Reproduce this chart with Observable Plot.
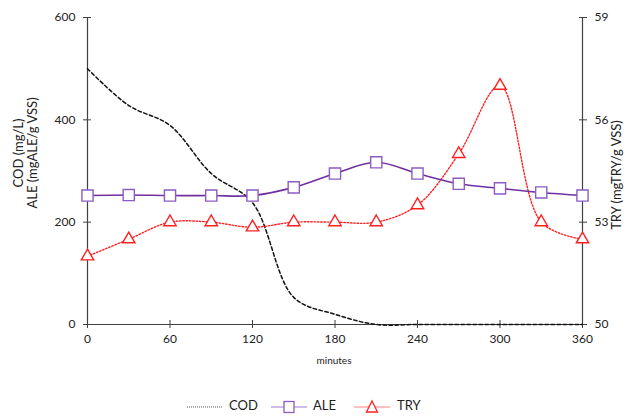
<!DOCTYPE html>
<html><head><meta charset="utf-8">
<script src="https://cdn.jsdelivr.net/npm/d3@7"></script>
<script src="https://cdn.jsdelivr.net/npm/@observablehq/plot@0.6"></script>
<style>
body{margin:0;background:#fff;font-family:Lato,"Open Sans",sans-serif;}
#chart{position:relative;width:625px;height:419px;overflow:hidden;}
#chart svg{display:block;}
#legend{position:absolute;left:0;top:385px;}
</style></head><body><div id="chart"></div>
<script>
const minutes = [0,30,60,90,120,150,180,210,240,270,300,330,360];
const cod = [500,428,389,295,238,53,20,0,0,0,0,0,0];
const ale = [252,253,252,252,252,268,295,317,295,275,266,258,252];
const tryVals = [52.0,52.5,53.0,53.0,52.85,53.0,53.0,53.0,53.5,55.0,57.0,53.0,52.5];
const xTicks = [0,60,120,180,240,300,360];
const leftTicks = [0,200,400,600];
const rightTicks = [50,53,56,59];
const seriesNames = ["COD","ALE","TRY"];
const leftLabel = ["COD (mg/L)","ALE (mgALE/g VSS)"];
const rightLabel = "TRY (mgTRY/g VSS)";
const xLabel = "minutes";

const W = 625, H = 385;
const yT = v => (v - 50) * 600 / 9;     // right-axis value -> left scale
const yTinv = v => 50 + v * 9 / 600;

const rows = minutes.map((m, i) => ({m, cod: cod[i], ale: ale[i], tr: yT(tryVals[i])}));
const axisColor = "#404040";
const aleColor = "#7030A0", aleMarker = "#8B5CC4", tryColor = "#FF2020";

const plot = Plot.plot({
  width: W, height: H,
  marginLeft: 87, marginRight: 43, marginTop: 17, marginBottom: 61,
  style: {fontFamily: "Lato, 'Open Sans', sans-serif", fontSize: "12px", color: "#222", background: "#fff"},
  x: {domain: [0, 360]},
  y: {domain: [0, 600]},
  marks: [
    Plot.ruleX([0, 360], {stroke: axisColor, strokeWidth: 1.2}),
    Plot.ruleY([0], {stroke: axisColor, strokeWidth: 1.2}),
    Plot.axisX(xTicks, {label: null, tickSize: 4, tickPadding: 6, stroke: axisColor}),
    Plot.axisY(leftTicks, {anchor: "left", label: null, tickSize: 4, tickPadding: 8, stroke: axisColor}),
    Plot.axisY(rightTicks.map(yT), {anchor: "right", label: null, tickSize: 4, tickPadding: 8, stroke: axisColor,
      tickFormat: d => String(Math.round(yTinv(d)))}),
    Plot.line(rows, {x: "m", y: "cod", curve: "catmull-rom", stroke: "#111", strokeWidth: 1.5, strokeDasharray: "3.5,2.5"}),
    Plot.line(rows, {x: "m", y: "tr", curve: "catmull-rom", stroke: tryColor, strokeWidth: 1.4, strokeDasharray: "1.5,1.8"}),
    Plot.line(rows, {x: "m", y: "ale", curve: "catmull-rom", stroke: aleColor, strokeWidth: 1.6}),
    Plot.dot(rows, {x: "m", y: "ale", symbol: "square", r: 6.3, fill: "white", stroke: aleMarker, strokeWidth: 1.4}),
    Plot.dot(rows, {x: "m", y: "tr", symbol: "triangle", r: 4.6, fill: "white", stroke: tryColor, strokeWidth: 1.4})
  ]
});

const svg = d3.select(plot);
// make axis ticks cross the axis lines
svg.selectAll('g[aria-label="x-axis tick"] path').attr("d", "M0,-4L0,4");
svg.selectAll('g[aria-label="y-axis tick"] path').attr("d", "M-4,0L4,0");

// axis titles
function vtext(x, y, s) {
  svg.append("text").attr("transform", `translate(${x},${y}) rotate(-90)`).attr("text-anchor", "middle")
    .attr("font-size", 13).attr("fill", "#222").text(s);
}
vtext(23, 153, leftLabel[0]);
vtext(37, 153, leftLabel[1]);
vtext(621, 175, rightLabel);
svg.append("text").attr("x", 334).attr("y", 361).attr("text-anchor", "middle")
  .attr("dominant-baseline", "middle").attr("font-size", 10).attr("fill", "#222").text(xLabel);

const chart = document.getElementById("chart");
chart.appendChild(plot);

// legend
const lg = d3.select(chart).append("svg").attr("id", "legend").attr("width", W).attr("height", 34);
const ly = 22;
const items = [
  {name: seriesNames[0], x0: 187, x1: 223, tx: 229, stroke: "#555", dash: "1,1", w: 1, sym: null},
  {name: seriesNames[1], x0: 271, x1: 307, tx: 313, stroke: "#A27CD0", dash: null, w: 1.2, sym: "square", ms: aleMarker},
  {name: seriesNames[2], x0: 354, x1: 390, tx: 397, stroke: "#FF8080", dash: null, w: 1.2, sym: "triangle", ms: tryColor}
];
items.forEach(it => {
  lg.append("line").attr("x1", it.x0).attr("x2", it.x1).attr("y1", ly).attr("y2", ly)
    .attr("stroke", it.stroke).attr("stroke-width", it.w).attr("stroke-dasharray", it.dash);
  if (it.sym === "square") {
    lg.append("rect").attr("x", (it.x0 + it.x1) / 2 - 5).attr("y", ly - 5.5).attr("width", 10).attr("height", 11)
      .attr("fill", "white").attr("stroke", it.ms).attr("stroke-width", 1.3);
  } else if (it.sym === "triangle") {
    const cx = (it.x0 + it.x1) / 2;
    lg.append("path").attr("d", `M${cx},${ly - 6}L${cx + 5.5},${ly + 5}L${cx - 5.5},${ly + 5}Z`)
      .attr("fill", "white").attr("stroke", it.ms).attr("stroke-width", 1.3);
  }
  lg.append("text").attr("x", it.tx).attr("y", ly).attr("dominant-baseline", "middle")
    .attr("font-size", 13).attr("fill", "#222").text(it.name);
});
</script>
</body></html>
